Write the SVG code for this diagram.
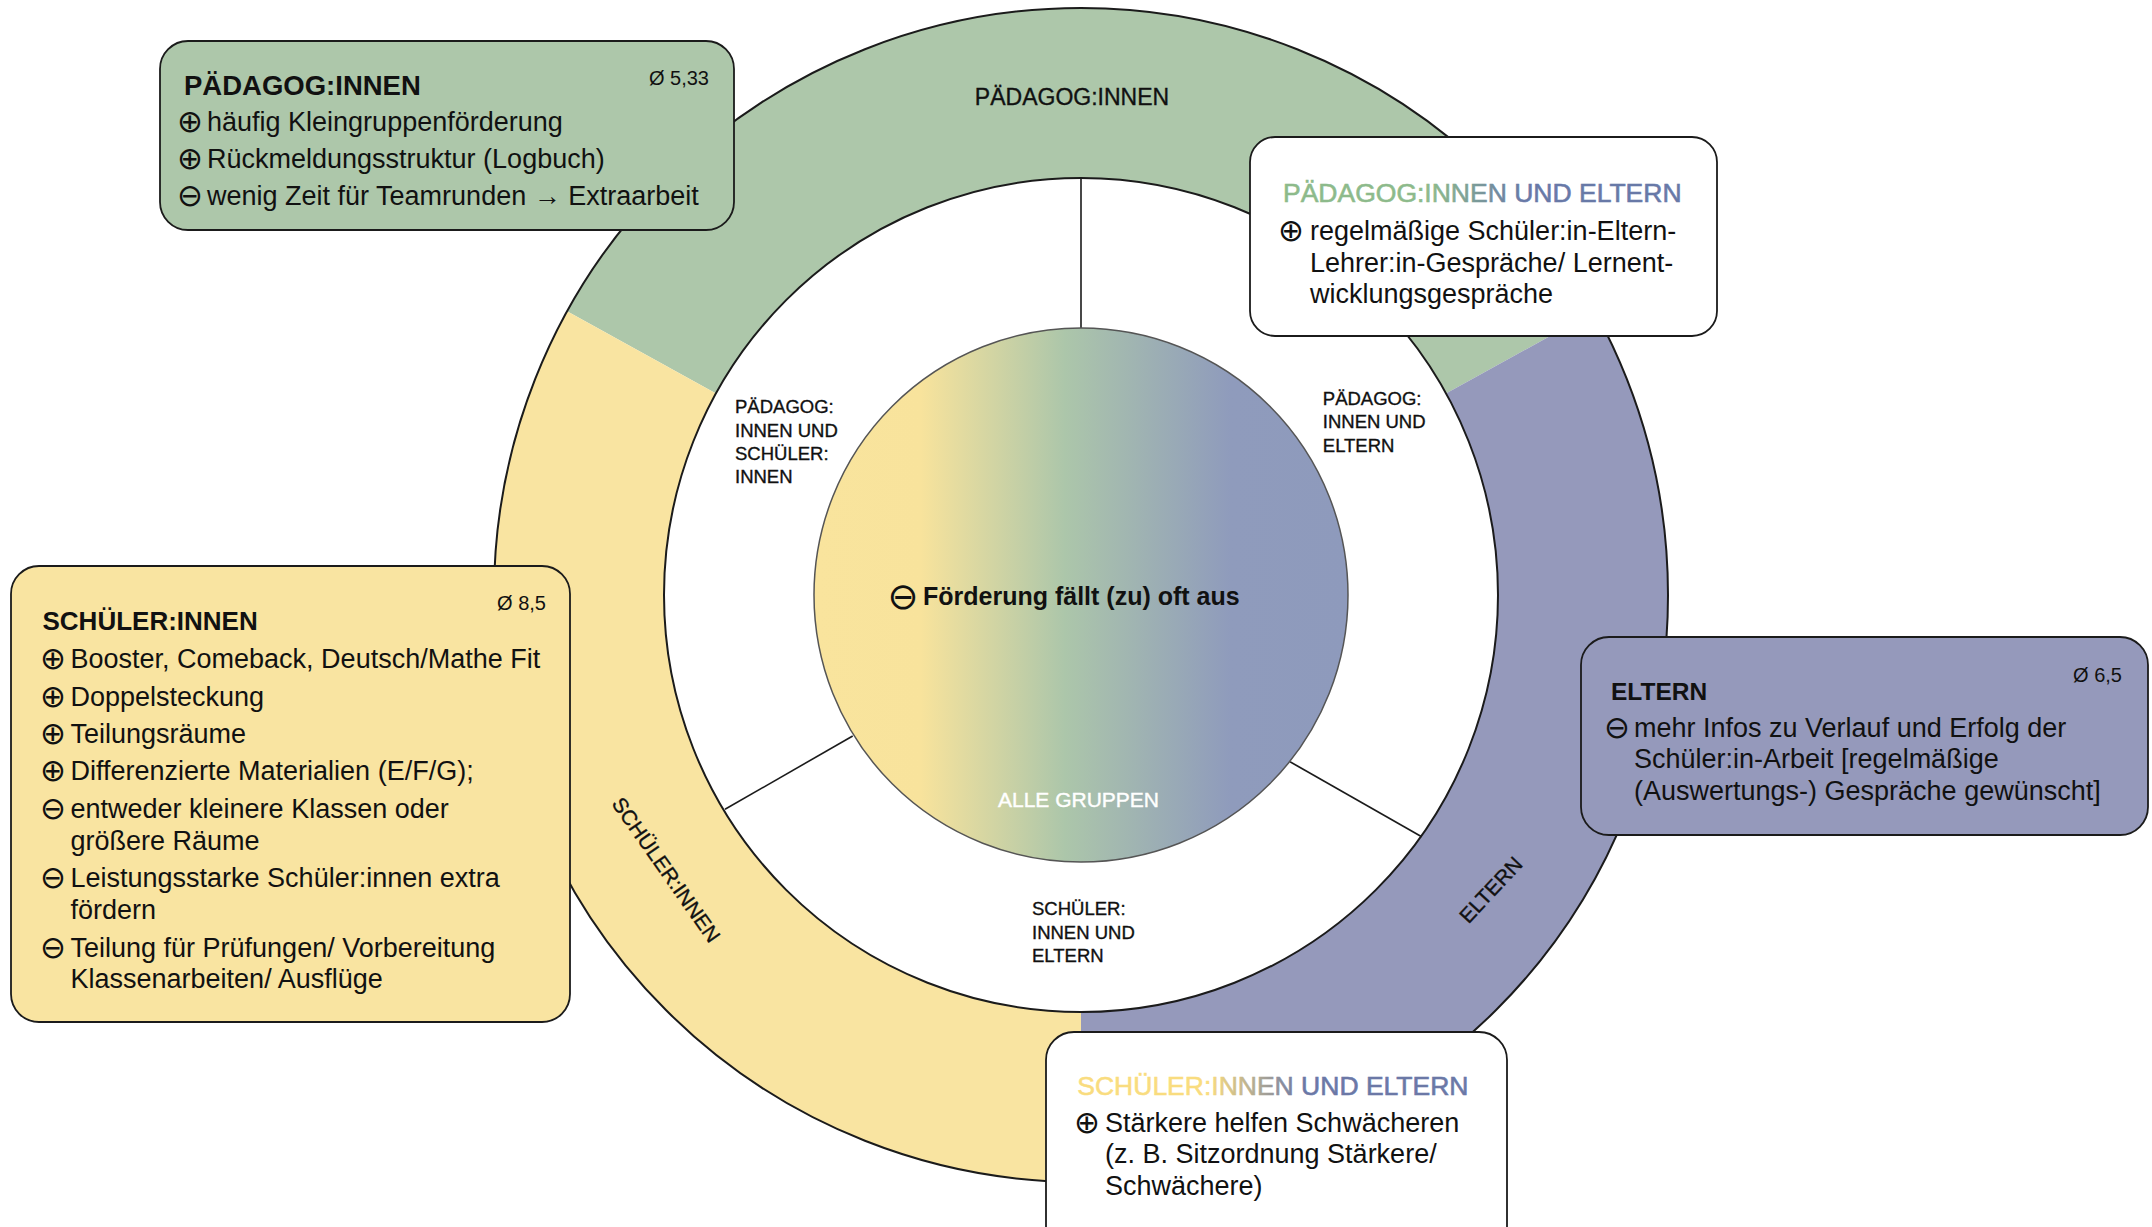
<svg xmlns="http://www.w3.org/2000/svg" width="2152" height="1227" viewBox="0 0 2152 1227">
  <defs>
    <linearGradient id="gradAll" x1="0" y1="0" x2="1" y2="0">
      <stop offset="0" stop-color="#F9E49D"/>
      <stop offset="0.2" stop-color="#F8E39C"/>
      <stop offset="0.47" stop-color="#ACC6AA"/>
      <stop offset="0.78" stop-color="#8F9BBC"/>
      <stop offset="1" stop-color="#8E9ABC"/>
    </linearGradient>
    <linearGradient id="gradPE" gradientUnits="userSpaceOnUse" x1="1283" y1="0" x2="1683" y2="0">
      <stop offset="0" stop-color="#8DBA8B"/>
      <stop offset="0.37" stop-color="#8DBA8B"/>
      <stop offset="0.6" stop-color="#6879A7"/>
      <stop offset="1" stop-color="#6879A7"/>
    </linearGradient>
    <linearGradient id="gradSE" gradientUnits="userSpaceOnUse" x1="1077" y1="0" x2="1465" y2="0">
      <stop offset="0" stop-color="#F9DC7F"/>
      <stop offset="0.34" stop-color="#F9DC7F"/>
      <stop offset="0.58" stop-color="#6B78A6"/>
      <stop offset="1" stop-color="#6B78A6"/>
    </linearGradient>
  </defs>
  <style>
    text { font-family: "Liberation Sans", Arial, sans-serif; fill: #111; }
    .ring { font-size: 23px; text-anchor: middle; stroke: #111; stroke-width: 0.35; }
    .seg { font-size: 21px; text-anchor: middle; stroke: #111; stroke-width: 0.35; }
    .inner { font-size: 18.5px; stroke: #111; stroke-width: 0.35; }
    .body { font-size: 27px; }
    .ic { font-family: "DejaVu Sans", sans-serif; font-size: 31px; text-anchor: middle; }
    .avg { font-size: 20px; text-anchor: end; }
    .title { font-weight: bold; }
    .ctitle { font-size: 26.5px; stroke-width: 0.6; }
    .box { stroke: #1b1b1b; stroke-width: 1.8; }
    .div { stroke: #1b1b1b; stroke-width: 1.6; fill: none; }
  </style>

  <rect width="2152" height="1227" fill="#ffffff"/>

  <!-- outer ring: three group sectors -->
  <g id="ring">
    <path id="sector-paedagogen" d="M1081 595 L567.1 311.3 A587 587 0 0 1 1594.9 311.3 Z" fill="#ADC7AA"/>
    <path id="sector-eltern" d="M1081 595 L1594.9 311.3 A587 587 0 0 1 1081 1182 Z" fill="#9599BB"/>
    <path id="sector-schueler" d="M1081 595 L1081 1182 A587 587 0 0 1 567.1 311.3 Z" fill="#F9E4A1"/>
    <circle cx="1081" cy="595" r="587" fill="none" stroke="#1b1b1b" stroke-width="2"/>
    <circle cx="1081" cy="595" r="417" fill="#ffffff" stroke="#1b1b1b" stroke-width="2"/>
    <text class="ring" x="1072" y="105">PÄDAGOG:INNEN</text>
    <text class="seg" transform="translate(666 870) rotate(55)" x="0" y="7">SCHÜLER:INNEN</text>
    <text class="seg" transform="translate(1491 890) rotate(-47)" x="0" y="7">ELTERN</text>
  </g>

  <!-- dividers of the overlap ring -->
  <g id="connectors">
    <line class="div" x1="1081" y1="328" x2="1081" y2="178"/>
    <line class="div" x1="852.7" y1="736" x2="725" y2="809.3"/>
    <line class="div" x1="1290" y1="761.7" x2="1421.7" y2="836.7"/>
  </g>

  <!-- overlap labels -->
  <g id="overlap-pae-sch">
    <text class="inner" x="735" y="413.3">PÄDAGOG:</text>
    <text class="inner" x="735" y="436.6">INNEN UND</text>
    <text class="inner" x="735" y="460">SCHÜLER:</text>
    <text class="inner" x="735" y="483.3">INNEN</text>
  </g>
  <g id="overlap-pae-elt">
    <text class="inner" x="1322.8" y="405">PÄDAGOG:</text>
    <text class="inner" x="1322.8" y="428.3">INNEN UND</text>
    <text class="inner" x="1322.8" y="451.7">ELTERN</text>
  </g>
  <g id="overlap-sch-elt">
    <text class="inner" x="1032" y="915">SCHÜLER:</text>
    <text class="inner" x="1032" y="938.5">INNEN UND</text>
    <text class="inner" x="1032" y="962">ELTERN</text>
  </g>

  <!-- centre: all groups -->
  <g id="alle-gruppen">
    <circle cx="1081" cy="595" r="267" fill="url(#gradAll)" stroke="#555" stroke-width="1.5"/>
    <text class="ic" x="903" y="609" style="font-size:37px">⊖</text>
    <text x="923" y="605" style="font-size:25px;font-weight:bold">Förderung fällt (zu) oft aus</text>
    <text x="1078.5" y="806.7" style="font-size:21px;fill:#ffffff;stroke:#ffffff;stroke-width:0.4;text-anchor:middle">ALLE GRUPPEN</text>
  </g>

  <!-- box: Pädagog:innen -->
  <g id="box-paedagogen">
    <rect class="box" x="160" y="41" width="574" height="189" rx="28" fill="#ADC7AA"/>
    <text class="title" x="184" y="95" style="font-size:27.5px">PÄDAGOG:INNEN</text>
    <text class="avg" x="709" y="85">Ø 5,33</text>
    <text class="ic" x="190" y="132">⊕</text>
    <text class="body" x="207" y="131">häufig Kleingruppenförderung</text>
    <text class="ic" x="190" y="169">⊕</text>
    <text class="body" x="207" y="168">Rückmeldungsstruktur (Logbuch)</text>
    <text class="ic" x="190" y="206">⊖</text>
    <text class="body" x="207" y="205">wenig Zeit für Teamrunden → Extraarbeit</text>
  </g>

  <!-- box: Pädagog:innen und Eltern -->
  <g id="box-paedagogen-eltern">
    <rect class="box" x="1250" y="137" width="467" height="199" rx="25" fill="#ffffff"/>
    <text class="ctitle" x="1283" y="201.7" style="fill:url(#gradPE);stroke:url(#gradPE)">PÄDAGOG:INNEN UND ELTERN</text>
    <text class="ic" x="1291" y="241">⊕</text>
    <text class="body" x="1310" y="240">regelmäßige Schüler:in-Eltern-</text>
    <text class="body" x="1310" y="271.7">Lehrer:in-Gespräche/ Lernent-</text>
    <text class="body" x="1310" y="303.3">wicklungsgespräche</text>
  </g>

  <!-- box: Schüler:innen -->
  <g id="box-schueler">
    <rect class="box" x="11" y="566" width="559" height="456" rx="28" fill="#F9E4A1"/>
    <text class="title" x="42.5" y="630" style="font-size:26px">SCHÜLER:INNEN</text>
    <text class="avg" x="546" y="610">Ø 8,5</text>
    <text class="ic" x="53" y="669">⊕</text>
    <text class="body" x="70.5" y="668">Booster, Comeback, Deutsch/Mathe Fit</text>
    <text class="ic" x="53" y="706.5">⊕</text>
    <text class="body" x="70.5" y="705.5">Doppelsteckung</text>
    <text class="ic" x="53" y="743.5">⊕</text>
    <text class="body" x="70.5" y="742.5">Teilungsräume</text>
    <text class="ic" x="53" y="781">⊕</text>
    <text class="body" x="70.5" y="780">Differenzierte Materialien (E/F/G);</text>
    <text class="ic" x="53" y="819">⊖</text>
    <text class="body" x="70.5" y="818">entweder kleinere Klassen oder</text>
    <text class="body" x="70.5" y="850">größere Räume</text>
    <text class="ic" x="53" y="888">⊖</text>
    <text class="body" x="70.5" y="887">Leistungsstarke Schüler:innen extra</text>
    <text class="body" x="70.5" y="918.5">fördern</text>
    <text class="ic" x="53" y="957.5">⊖</text>
    <text class="body" x="70.5" y="956.5">Teilung für Prüfungen/ Vorbereitung</text>
    <text class="body" x="70.5" y="987.5">Klassenarbeiten/ Ausflüge</text>
  </g>

  <!-- box: Eltern -->
  <g id="box-eltern">
    <rect class="box" x="1581" y="637" width="567" height="198" rx="28" fill="#9599BB"/>
    <text class="title" x="1611" y="700" style="font-size:24.5px">ELTERN</text>
    <text class="avg" x="2122" y="681.7">Ø 6,5</text>
    <text class="ic" x="1617" y="737.7">⊖</text>
    <text class="body" x="1634" y="736.7">mehr Infos zu Verlauf und Erfolg der</text>
    <text class="body" x="1634" y="768.4">Schüler:in-Arbeit [regelmäßige</text>
    <text class="body" x="1634" y="800">(Auswertungs-) Gespräche gewünscht]</text>
  </g>

  <!-- box: Schüler:innen und Eltern -->
  <g id="box-schueler-eltern">
    <rect class="box" x="1046" y="1032" width="461" height="240" rx="28" fill="#ffffff"/>
    <text class="ctitle" x="1077.3" y="1095" style="fill:url(#gradSE);stroke:url(#gradSE)">SCHÜLER:INNEN UND ELTERN</text>
    <text class="ic" x="1087" y="1132.7">⊕</text>
    <text class="body" x="1105" y="1131.7">Stärkere helfen Schwächeren</text>
    <text class="body" x="1105" y="1163.4"> (z. B. Sitzordnung Stärkere/</text>
    <text class="body" x="1105" y="1195">Schwächere)</text>
  </g>
</svg>
